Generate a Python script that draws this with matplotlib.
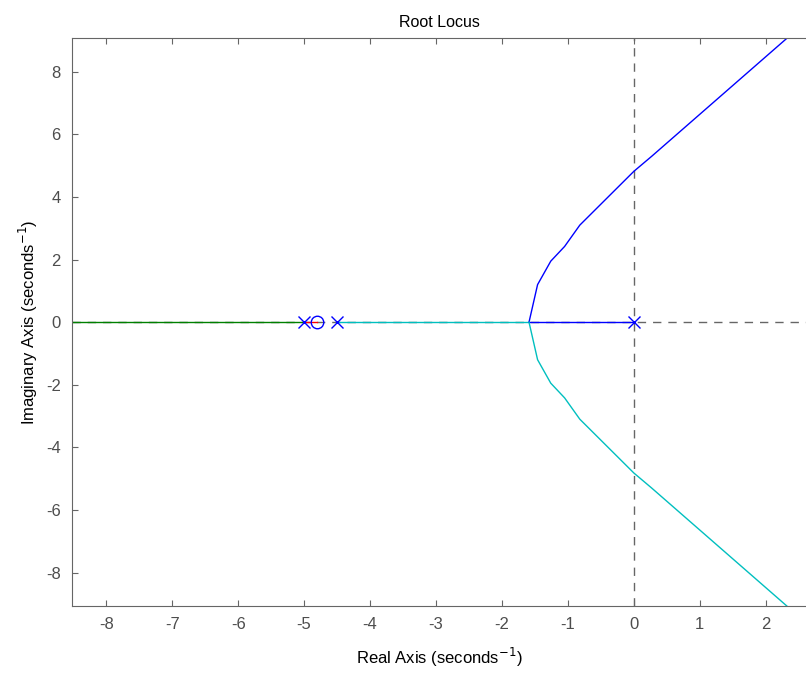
"""
Root locus plot, redrawn with matplotlib.
"""

import matplotlib

matplotlib.use("Agg")
import matplotlib.pyplot as plt
import numpy as np

# --------------------------------------------------------------------------- #
# DATA                                      #
# --------------------------------------------------------------------------- #
poles_re = [-5.0, -4.5, 0.0]
zeros_re = [-4.8]

# upper complex branch (blue), starting at the breakaway point
upper_re = [-1.59, -1.46, -1.26, -1.05, -0.82, 0.0, 0.27, 2.45]
upper_im = [0.0, 1.20, 1.95, 2.42, 3.10, 4.82, 5.30, 9.31]

# lower complex branch (cyan) is the mirror image
lower_re = upper_re
lower_im = [-v for v in upper_im]

# real-axis segments
green_re = [-9.0, -5.0]       # from -inf to the pole at -5
red_re = [-5.0, -4.8]         # pole -5 to zero -4.8
cyan_re = [-4.5, -1.59]       # pole -4.5 to breakaway
blue_re = [0.0, -1.59]        # pole 0 to breakaway

x_ticks = list(range(-8, 3))
y_ticks = list(range(-8, 9, 2))

BLUE = "#0000ff"
CYAN = "#00bfbf"
GREEN = "#008000"
RED = "#ff0000"
GREY = "#666666"


def main() -> None:
    plt.rcParams["font.family"] = ["Liberation Sans", "DejaVu Sans"]
    plt.rcParams["axes.unicode_minus"] = False
    fig = plt.figure(figsize=(8.06, 6.75), dpi=100)
    ax = fig.add_axes([0.0893, 0.1022, 0.9107, 0.8415])

    # dashed axes through the origin
    ax.axhline(0, color=GREY, ls=(0, (6, 5)), lw=1, zorder=1)
    ax.axvline(0, color=GREY, ls=(0, (6, 5)), lw=1, zorder=1)

    ax.plot(green_re, [0, 0], color=GREEN, lw=1, zorder=2)
    ax.plot(red_re, [0, 0], color=RED, lw=1, zorder=2)
    ax.plot(cyan_re, [0, 0], color=CYAN, lw=1, zorder=2)
    ax.plot(blue_re, [0, 0], color=BLUE, lw=1, zorder=2)
    ax.plot(upper_re, upper_im, color=BLUE, lw=1, zorder=2)
    ax.plot(lower_re, lower_im, color=CYAN, lw=1, zorder=2)

    ax.plot(poles_re, np.zeros(len(poles_re)), ls="none", marker="x",
            color=BLUE, ms=8, mew=1, zorder=3)
    ax.plot(zeros_re, np.zeros(len(zeros_re)), ls="none", marker="o",
            mfc="none", mec=BLUE, ms=9, mew=1, zorder=3)

    ax.set_xlim(-8.52, 2.61)
    ax.set_ylim(-9.07, 9.08)
    ax.set_xticks(x_ticks)
    ax.set_yticks(y_ticks)
    ax.tick_params(direction="in", length=4, colors=GREY, labelsize=12,
                   top=True, right=False, pad=8)
    for lab in ax.get_xticklabels() + ax.get_yticklabels():
        lab.set_color("#4d4d4d")
    for sp in ax.spines.values():
        sp.set_color(GREY)
    # the right edge of the box falls outside the picture in the reference
    ax.spines["right"].set_visible(False)

    ax.set_title("Root Locus", fontsize=11.5, pad=8)
    ax.set_xlabel("Real Axis (seconds$^{-1}$)", fontsize=12, labelpad=10)
    ax.set_ylabel("Imaginary Axis (seconds$^{-1}$)", fontsize=12, labelpad=4)

    fig.savefig("out.png", dpi=100)
    plt.close(fig)


if __name__ == "__main__":
    main()
